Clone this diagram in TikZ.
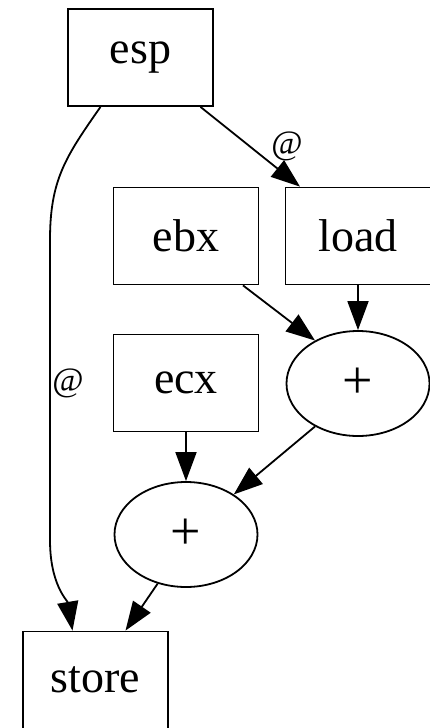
\documentclass[tikz,border=0pt]{standalone}
\usepackage{fontspec}
\setmainfont{Liberation Serif}
\usetikzlibrary{shapes.geometric,arrows.meta}

\begin{document}
\begin{tikzpicture}[x=1pt, y=-1pt,
    reg/.style={draw, line width=1.8pt, minimum width=145pt, minimum height=97pt,
        inner sep=0pt, font=\fontsize{46}{50}\selectfont},
    op/.style={draw, ellipse, line width=1.8pt, minimum width=143pt, minimum height=105pt,
        inner sep=0pt, font=\fontsize{54}{58}\selectfont},
    lbl/.style={inner sep=0pt, font=\fontsize{34}{36}\selectfont},
    edge/.style={line width=1.8pt, -{Triangle[length=29pt, width=21pt]}}]
    \useasboundingbox (0,0) rectangle (429,728);
    % nodes
    \node[reg] (esp) at (140.5,57.5) {esp};
    \node[reg] (ebx) at (186,236) {ebx};
    \node[reg] (load) at (358,236) {load};
    \node[op] (add1) at (358,383.5) {+};
    \node[reg] (ecx) at (186,383) {ecx};
    \node[op] (add2) at (186,534.5) {+};
    \node[reg] (store) at (95.5,680) {store};
    \node[lbl] (at1) at (287,146) {@};
    \node[lbl] (at2) at (68,383) {@};
    % edges
    \draw[edge] ([xshift=60pt]esp.south) -- ([xshift=-58pt]load.north);
    \draw[edge] ([xshift=-40pt]esp.south) .. controls +(-35,50) and +(0,-60) .. (50,240)
        -- (50,540) .. controls +(0,45) and +(-5,-30) .. ([xshift=-23pt]store.north);
    \draw[edge] ([xshift=57pt]ebx.south) -- (add1.135);
    \draw[edge] (load) -- (add1);
    \draw[edge] (add1.225) -- (add2.40);
    \draw[edge] (ecx) -- (add2);
    \draw[edge] (add2.240) -- ([xshift=30pt]store.north);
\end{tikzpicture}
\end{document}
